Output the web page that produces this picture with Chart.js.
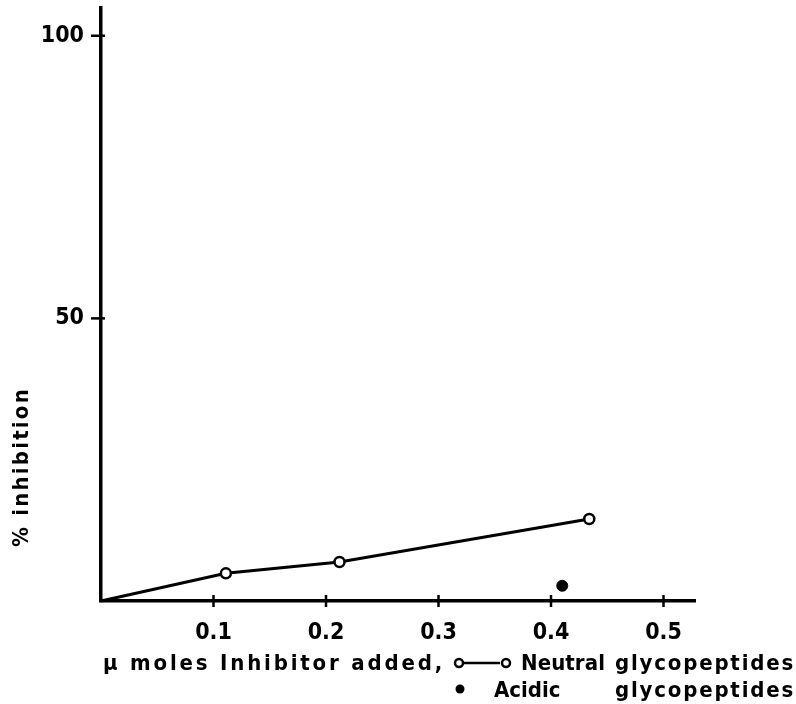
<!DOCTYPE html>
<html>
<head>
<meta charset="utf-8">
<script src="https://cdn.jsdelivr.net/npm/chart.js@4/dist/chart.umd.min.js"></script>
<style>
html,body{margin:0;padding:0;background:#fff;}
#wrap{width:796px;height:704px;position:relative;}
</style>
</head>
<body>
<div id="wrap"><canvas id="c" width="796" height="704"></canvas></div>
<script>
// ---- data ----
const neutralX = [0, 0.111, 0.212, 0.434];
const neutralY = [0, 4.9, 6.9, 14.5];
const acidicX = [0.410];
const acidicY = [2.7];
const xTickValues = [0.1, 0.2, 0.3, 0.4, 0.5];
const yTickValues = [50, 100];
const xTitle = "\u03bc moles Inhibitor added,";
const yTitle = "% inhibition";
const seriesNames = ["Neutral", "Acidic"];
const seriesSuffix = "glycopeptides";

const FONT = '"DejaVu Sans Condensed", "DejaVu Sans", sans-serif';

function fitText(ctx, text, x, y, width, align) {
  ctx.save();
  const n = [...text].length;
  const w = ctx.measureText(text).width;
  let total = w;
  if ('letterSpacing' in ctx && n > 1 && width > w) {
    ctx.letterSpacing = ((width - w) / n) + 'px';
    total = width;
  }
  ctx.textAlign = 'left';
  let sx = x;
  if (align === 'right') sx = x - total;
  if (align === 'center') sx = x - total / 2;
  ctx.fillText(text, sx, y);
  ctx.restore();
}

const decor = {
  id: 'decor',
  afterDraw(chart) {
    const ctx = chart.ctx;
    const xs = chart.scales.x, ys = chart.scales.y;
    const x0 = xs.getPixelForValue(0), y0 = ys.getPixelForValue(0);
    ctx.save();
    ctx.strokeStyle = '#000';
    ctx.fillStyle = '#000';
    // crossing tick marks
    ctx.lineWidth = 2.5;
    xTickValues.forEach(v => {
      const px = xs.getPixelForValue(v);
      ctx.beginPath(); ctx.moveTo(px, y0 - 6); ctx.lineTo(px, y0 + 6); ctx.stroke();
    });
    yTickValues.forEach(v => {
      const py = ys.getPixelForValue(v);
      ctx.beginPath(); ctx.moveTo(x0 - 10, py); ctx.lineTo(x0 + 4, py); ctx.stroke();
    });
    // y title
    ctx.save();
    ctx.font = 'bold 22px ' + FONT;
    ctx.translate(22, 467);
    ctx.rotate(-Math.PI / 2);
    ctx.textBaseline = 'middle';
    fitText(ctx, yTitle, 0, 0, 160, 'center');
    ctx.restore();
    // x title line 1
    ctx.font = 'bold 22px ' + FONT;
    ctx.textBaseline = 'alphabetic';
    fitText(ctx, xTitle, 103, 670, 342, 'left');
    // legend sample o—o
    const ly = 663;
    ctx.lineWidth = 2.5;
    ctx.beginPath(); ctx.moveTo(464, ly); ctx.lineTo(500, ly); ctx.stroke();
    ctx.fillStyle = '#fff';
    [459, 506].forEach(cx => {
      ctx.beginPath(); ctx.arc(cx, ly, 4, 0, Math.PI * 2); ctx.fill(); ctx.stroke();
    });
    ctx.fillStyle = '#000';
    fitText(ctx, seriesNames[0], 521, 670, 84, 'left');
    fitText(ctx, seriesSuffix, 795, 670, 180, 'right');
    // line 2
    ctx.beginPath(); ctx.arc(460, 689, 4.5, 0, Math.PI * 2); ctx.fill();
    fitText(ctx, seriesNames[1], 494, 697, 64, 'left');
    fitText(ctx, seriesSuffix, 795, 697, 180, 'right');
    ctx.restore();
  }
};

new Chart(document.getElementById('c'), {
  type: 'scatter',
  data: {
    datasets: [
      {
        label: seriesNames[0],
        data: neutralX.map((x, i) => ({x, y: neutralY[i]})),
        showLine: true,
        borderColor: '#000',
        borderWidth: 3,
        tension: 0,
        pointRadius: neutralX.map((x, i) => i === 0 ? 0 : 5),
        pointBorderWidth: 2.5,
        pointBorderColor: '#000',
        pointBackgroundColor: '#fff',
        clip: false
      },
      {
        label: seriesNames[1],
        data: acidicX.map((x, i) => ({x, y: acidicY[i]})),
        showLine: false,
        pointRadius: 5.5,
        pointBorderWidth: 1,
        pointBorderColor: '#000',
        pointBackgroundColor: '#000'
      }
    ]
  },
  options: {
    responsive: false,
    animation: false,
    devicePixelRatio: 1,
    layout: {padding: {top: 7, right: 101, left: 0, bottom: 0}},
    plugins: {legend: {display: false}, tooltip: {enabled: false}, title: {display: false}},
    scales: {
      x: {
        type: 'linear', min: 0, max: 0.528,
        afterBuildTicks: s => { s.ticks = xTickValues.map(v => ({value: v})); },
        afterFit: s => { s.height = 103; s.paddingLeft = 0; s.paddingRight = 0; },
        grid: {display: false, drawTicks: false},
        border: {display: true, color: '#000', width: 3.5},
        ticks: {color: '#000', padding: 18, maxRotation: 0, autoSkip: false,
          font: {family: FONT, size: 23, weight: 'bold'},
          callback: v => v.toFixed(1)}
      },
      y: {
        type: 'linear', min: 0, max: 105,
        afterBuildTicks: s => { s.ticks = yTickValues.map(v => ({value: v})); },
        afterFit: s => { s.width = 101; s.paddingTop = 0; s.paddingBottom = 0; },
        grid: {display: false, drawTicks: false},
        border: {display: true, color: '#000', width: 3.5},
        ticks: {color: '#000', padding: 17, autoSkip: false,
          font: {family: FONT, size: 23, weight: 'bold'},
          callback: v => String(v)}
      }
    }
  },
  plugins: [decor]
});
</script>
</body>
</html>
